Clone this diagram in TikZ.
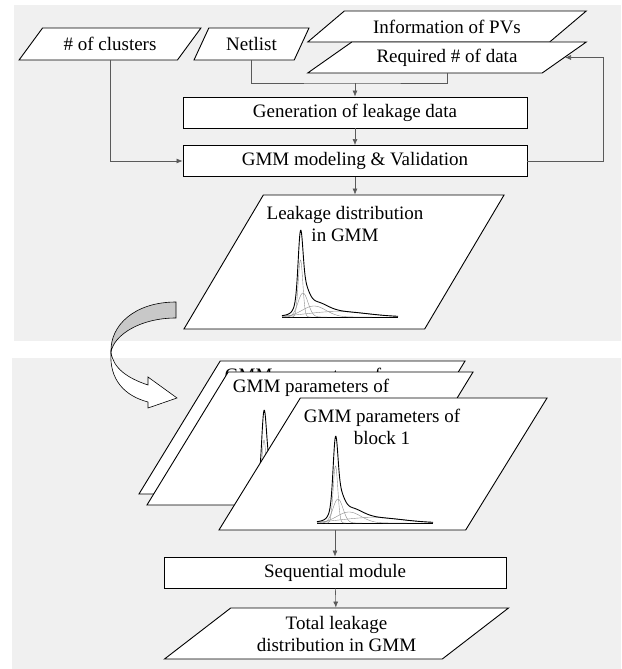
\documentclass[tikz,border=0pt]{standalone}
\usepackage{fontspec}
\setmainfont{Liberation Serif}
\usetikzlibrary{shapes.geometric,arrows.meta,positioning,calc}
\definecolor{panelgray}{RGB}{240,240,240}
\definecolor{bandgray}{RGB}{200,200,200}
\definecolor{linkgray}{RGB}{90,90,90}
\tikzset{
  txt/.style={font=\fontsize{19}{22}\selectfont, align=center, inner sep=0pt},
  databox/.style={trapezium, draw, fill=white, line width=0.9pt, txt, inner sep=1pt,
    trapezium stretches=true},
  procbox/.style={rectangle, draw, fill=white, line width=0.9pt,
    minimum height=31pt, txt},
  flow/.style={-{Latex[length=6pt,width=5pt]}, line width=0.6pt, linkgray},
  link/.style={line width=0.6pt, linkgray},
  curvecomp/.style={black!45, line width=0.4pt},
  curvesum/.style={black, line width=0.9pt},
}
% small GMM sketch, #1 = left end of its axis
\newcommand{\gmmcurve}[1]{%
  \begin{scope}[shift={#1}]
    \draw[curvesum] (0,0) -- (116,0);
    \draw[curvecomp] plot[domain=8:29, samples=60, smooth] (\x, {-57*exp(-((\x-18.5)^2)/10.58)});
    \draw[curvecomp] plot[domain=0:45, samples=60, smooth] (\x, {-24*exp(-((\x-21)^2)/50)});
    \draw[curvecomp] plot[domain=0:90, samples=60, smooth] (\x, {-11*exp(-((\x-32)^2)/288)});
    \draw[curvecomp] plot[domain=0:116, samples=60, smooth] (\x, {-5.5*exp(-((\x-55)^2)/1800)});
    \draw[curvesum] plot[domain=0:116, samples=233, smooth] (\x, {-57*exp(-((\x-18.5)^2)/10.58)
      -24*exp(-((\x-21)^2)/50) -11*exp(-((\x-32)^2)/288) -5.5*exp(-((\x-55)^2)/1800)});
  \end{scope}}

\begin{document}
\begin{tikzpicture}[x=1pt, y=-1pt]
  \useasboundingbox (0,0) rectangle (621,669);
  \fill[white] (0,0) rectangle (621,669);
  \fill[panelgray] (14,5) rectangle (621,341);
  \fill[panelgray] (12,358) rectangle (621,669);

  % inputs
  \node[databox, trapezium left angle=43.3, trapezium right angle=136.7,
    minimum width=182pt, minimum height=32pt] (clusters) at (110,44) {\# of clusters};
  \node[databox, trapezium left angle=59.3, trapezium right angle=120.7,
    minimum width=115pt, minimum height=32pt] (netlist) at (251.5,44) {Netlist};
  \node[databox, trapezium left angle=30.4, trapezium right angle=149.6,
    minimum width=279pt, minimum height=31pt] (info) at (447,26.5) {Information of PVs};
  \node[databox, trapezium left angle=30.4, trapezium right angle=149.6,
    minimum width=279pt, minimum height=31pt] (reqdata) at (447,57.5) {Required \# of data};

  % modeling
  \node[procbox, minimum width=344pt] (gen) at (355,112.5) {Generation of leakage data};
  \node[procbox, minimum width=344pt] (gmm) at (355,161) {GMM modeling \& Validation};
  \node[databox, trapezium left angle=63.8, trapezium right angle=116.2,
    minimum width=320pt, minimum height=134pt] (leak) at (344,262) {};
  \node[txt] (leaktext) at (345,224) {Leakage distribution\\in GMM};
  \gmmcurve{(282,317)}

  \coordinate (join) at (355,83);
  \draw[link] (netlist.center |- netlist.south) |- (join) -| (reqdata.center |- reqdata.south);
  \draw[flow] (join) -- (gen.north);
  \draw[flow] (gen) -- (gmm);
  \draw[flow] (clusters.center |- clusters.south) |- (gmm.west);
  \draw[flow] (gmm.east) -- ++(76,0) |- (reqdata.east);
  \draw[flow] (gmm.south) -- (gmm.south |- leak.north);

  % curved arrow between the panels
  \filldraw[fill=bandgray, line width=0.6pt] (176,302) .. controls (135,302) and (110,325) .. (111,352)
    .. controls (114,335) and (140,318) .. (176,318) -- cycle;
  \filldraw[fill=white, line width=0.6pt] (111,352) .. controls (109,380) and (125,396) .. (148,402)
    -- (148,408) -- (177,398) -- (148,377) -- (148,385)
    .. controls (127,378) and (113,368) .. (111,352) -- cycle;

  % blocks
  \node[databox, trapezium left angle=63.6, trapezium right angle=116.4,
    minimum width=326pt, minimum height=133pt] (sheeta) at (302,427.5) {};
  \node[txt] (sheetatext) at (303,377) {GMM parameters of};
  \node[databox, trapezium left angle=63.6, trapezium right angle=116.4,
    minimum width=326pt, minimum height=133pt] (sheetb) at (310,438.5) {};
  \node[txt] (sheetbtext) at (311,388) {GMM parameters of};
  \gmmcurve{(245.5,497)}
  \node[databox, trapezium left angle=63.8, trapezium right angle=116.2,
    minimum width=328pt, minimum height=132pt] (sheetc) at (383,464) {};
  \node[txt] (sheetctext) at (382,426.5) {GMM parameters of\\block 1};
  \gmmcurve{(317,523)}

  \node[procbox, minimum width=342pt] (seq) at (335,572.5) {Sequential module};
  \node[databox, trapezium left angle=36.5, trapezium right angle=143.5,
    minimum width=345pt, minimum height=51pt] (total) at (336.5,633.5) {Total leakage\\distribution in GMM};

  \draw[flow] (seq.north |- sheetc.south) -- (seq.north);
  \draw[flow] (seq) -- (total);
\end{tikzpicture}
\end{document}
